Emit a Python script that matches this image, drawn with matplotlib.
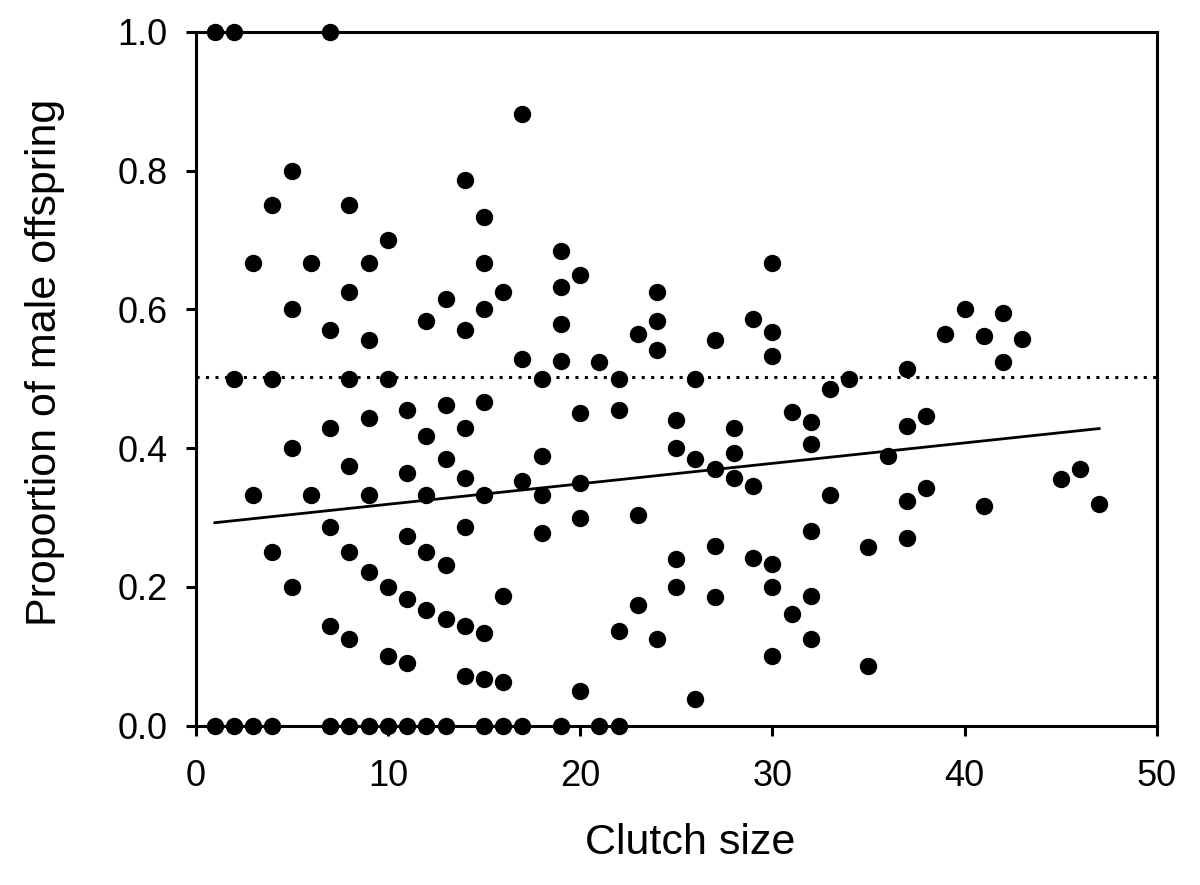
import numpy as np
import matplotlib
matplotlib.use('Agg')
from matplotlib import pyplot as plt

plt.rcParams['font.family'] = ['Liberation Sans', 'DejaVu Sans']

# clutch size -> proportions of male offspring
clutch = [1, 1,
          2, 2, 2,
          3, 3, 3,
          4, 4, 4, 4,
          5, 5, 5, 5,
          6, 6,
          7, 7, 7, 7, 7, 7,
          8, 8, 8, 8, 8, 8, 8,
          9, 9, 9, 9, 9, 9,
          10, 10, 10, 10, 10,
          11, 11, 11, 11, 11, 11,
          12, 12, 12, 12, 12, 12,
          13, 13, 13, 13, 13, 13,
          14, 14, 14, 14, 14, 14, 14,
          15, 15, 15, 15, 15, 15, 15, 15,
          16, 16, 16, 16,
          17, 17, 17, 17,
          18, 18, 18, 18,
          19, 19, 19, 19, 19,
          20, 20, 20, 20, 20,
          21, 21,
          22, 22, 22, 22,
          23, 23, 23,
          24, 24, 24, 24,
          25, 25, 25, 25,
          26, 26, 26,
          27, 27, 27, 27,
          28, 28, 28,
          29, 29, 29,
          30, 30, 30, 30, 30, 30,
          31, 31,
          32, 32, 32, 32, 32,
          33, 33,
          34,
          35, 35,
          36,
          37, 37, 37, 37,
          38, 38,
          39, 40,
          41, 41,
          42, 42,
          43, 45, 46, 47]
prop_male = [1.0, 0.0,
             1.0, 0.5, 0.0,
             0.667, 0.333, 0.0,
             0.75, 0.5, 0.25, 0.0,
             0.8, 0.6, 0.4, 0.2,
             0.667, 0.333,
             1.0, 0.571, 0.429, 0.286, 0.143, 0.0,
             0.75, 0.625, 0.5, 0.375, 0.25, 0.125, 0.0,
             0.667, 0.556, 0.444, 0.333, 0.222, 0.0,
             0.7, 0.5, 0.2, 0.1, 0.0,
             0.455, 0.364, 0.273, 0.182, 0.091, 0.0,
             0.583, 0.417, 0.333, 0.25, 0.167, 0.0,
             0.615, 0.462, 0.385, 0.231, 0.154, 0.0,
             0.786, 0.571, 0.429, 0.357, 0.286, 0.143, 0.071,
             0.733, 0.667, 0.6, 0.467, 0.333, 0.133, 0.067, 0.0,
             0.625, 0.1875, 0.0625, 0.0,
             0.882, 0.529, 0.353, 0.0,
             0.5, 0.389, 0.333, 0.278,
             0.684, 0.632, 0.579, 0.526, 0.0,
             0.65, 0.45, 0.35, 0.3, 0.05,
             0.524, 0.0,
             0.5, 0.455, 0.136, 0.0,
             0.565, 0.304, 0.174,
             0.625, 0.583, 0.542, 0.125,
             0.44, 0.4, 0.24, 0.2,
             0.5, 0.385, 0.038,
             0.556, 0.37, 0.259, 0.185,
             0.429, 0.393, 0.357,
             0.586, 0.345, 0.241,
             0.667, 0.567, 0.533, 0.233, 0.2, 0.1,
             0.452, 0.161,
             0.438, 0.406, 0.281, 0.1875, 0.125,
             0.485, 0.333,
             0.5,
             0.257, 0.086,
             0.389,
             0.514, 0.432, 0.324, 0.27,
             0.447, 0.342,
             0.564, 0.6,
             0.561, 0.317,
             0.595, 0.524,
             0.558, 0.356, 0.37, 0.319]

# regression line as shown in the figure
fit_x = [1, 47]
fit_b0 = 0.2896
fit_b1 = 0.00295
even_ratio = 0.503

fig = plt.figure(figsize=(12, 8.85), dpi=100)
ax = fig.add_axes([0.163, 0.18, 0.801, 0.784])

ax.axhline(even_ratio, color='black', lw=2.2, ls=(0, (1, 2.1)), zorder=1)
fx = np.array(fit_x)
ax.plot(fx, fit_b0 + fit_b1 * fx, color='black', lw=2.0, zorder=2)
ax.plot(clutch, prop_male, 'o', color='black', ms=11.5, clip_on=False, zorder=3)

ax.set_xlim(0, 50)
ax.set_ylim(0, 1.0)
ax.set_xticks(range(0, 51, 10))
ax.set_yticks(np.arange(0, 1.01, 0.2))
ax.set_yticklabels(['%.1f' % v for v in np.arange(0, 1.01, 0.2)])
for s in ax.spines.values():
    s.set_linewidth(2.2)
ax.tick_params(direction='out', length=7, width=2.2, labelsize=26)
ax.tick_params(axis='y', pad=13)
ax.tick_params(axis='x', pad=17)
ax.set_xlabel('Clutch size', fontsize=31, labelpad=21, x=0.515)
ax.set_ylabel('Proportion of male offspring', fontsize=31, labelpad=38, y=0.524)

fig.savefig('out.png', dpi=100)
